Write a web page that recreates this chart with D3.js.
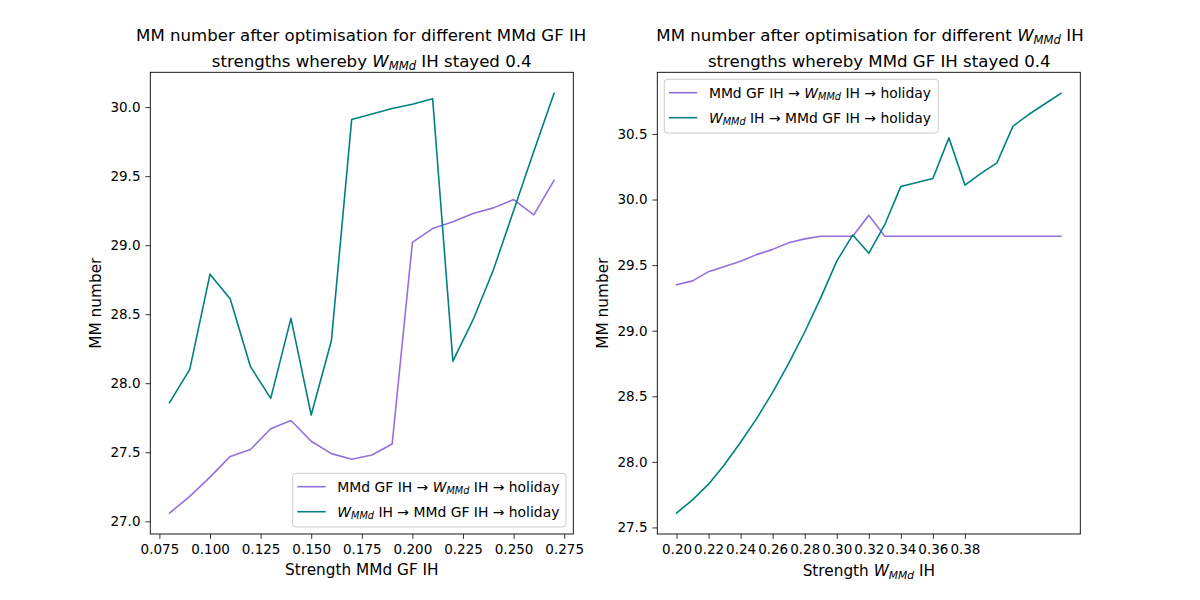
<!DOCTYPE html>
<html>
<head>
<meta charset="utf-8">
<script src="https://cdn.jsdelivr.net/npm/d3@7"></script>
<style>
  body { margin: 0; background: #fff; }
  svg { display: block; }
  text { font-family: "DejaVu Sans", sans-serif; fill: #000; }
</style>
</head>
<body>
<svg id="chart" width="1200" height="600"></svg>
<script>
// left panel: varying MMd GF IH strength, W_MMd IH fixed at 0.4
const leftStrengths = [0.08, 0.09, 0.10, 0.11, 0.12, 0.13, 0.14, 0.15, 0.16, 0.17,
  0.18, 0.19, 0.20, 0.21, 0.22, 0.23, 0.24, 0.25, 0.26, 0.27];
const leftGfFirst = [27.06, 27.18, 27.32, 27.47, 27.52, 27.67, 27.73, 27.58, 27.49, 27.45,
  27.48, 27.56, 29.02, 29.12, 29.17, 29.23, 29.27, 29.33, 29.22, 29.47];
const leftWFirst = [27.86, 28.10, 28.79, 28.61, 28.12, 27.89, 28.47, 27.77, 28.31, 29.91,
  29.95, 29.99, 30.02, 30.06, 28.16, 28.46, 28.82, 29.25, 29.68, 30.10];
const leftXTicks = [0.075, 0.100, 0.125, 0.150, 0.175, 0.200, 0.225, 0.250, 0.275];
const leftYTicks = [27.0, 27.5, 28.0, 28.5, 29.0, 29.5, 30.0];

// right panel: varying W_MMd IH strength, MMd GF IH fixed at 0.4
const rightStrengths = [0.20, 0.21, 0.22, 0.23, 0.24, 0.25, 0.26, 0.27, 0.28, 0.29,
  0.30, 0.31, 0.32, 0.33, 0.34, 0.35, 0.36, 0.37, 0.38, 0.39, 0.40, 0.41, 0.42, 0.43, 0.44];
const rightGfFirst = [29.35, 29.38, 29.45, 29.49, 29.53, 29.58, 29.62, 29.67, 29.70, 29.72,
  29.72, 29.72, 29.88, 29.72, 29.72, 29.72, 29.72, 29.72, 29.72, 29.72, 29.72, 29.72, 29.72, 29.72, 29.72];
const rightWFirst = [27.61, 27.71, 27.83, 27.98, 28.15, 28.33, 28.53, 28.75, 28.99, 29.25,
  29.53, 29.73, 29.59, 29.81, 30.10, 30.13, 30.16, 30.47, 30.11, 30.20, 30.28, 30.56, 30.65, 30.73, 30.81];
const rightXTicks = [0.20, 0.22, 0.24, 0.26, 0.28, 0.30, 0.32, 0.34, 0.36, 0.38];
const rightYTicks = [27.5, 28.0, 28.5, 29.0, 29.5, 30.0, 30.5];

const PURPLE = "#9370db";
const TEAL = "#008080";
const W = { it: "W" }, MMD = { sub: "MMd" };

const svg = d3.select("#chart");

// plain strings, {it: ".."} italic, {sub: ".."} italic subscript (matplotlib mathtext look)
function richText(sel, parts, size) {
  let shift = 0;
  parts.forEach((p) => {
    const t = sel.append("tspan");
    if (typeof p === "string") {
      t.text(p);
    } else if (p.it) {
      t.attr("font-style", "italic").text(p.it);
    } else if (p.sub) {
      t.attr("font-style", "italic").attr("font-size", size * 0.7).text(p.sub);
      t.attr("dy", size * 0.2);
      shift = size * 0.2;
      return;
    }
    if (shift) { t.attr("dy", -shift); shift = 0; }
  });
  return sel;
}

function padded(values) {
  const [lo, hi] = d3.extent(values);
  const m = (hi - lo) * 0.05;
  return [lo - m, hi + m];
}

function drawPanel(cfg) {
  const x = d3.scaleLinear().domain(padded(cfg.xs)).range([cfg.left, cfg.right]);
  const y = d3.scaleLinear().domain(padded(cfg.a.concat(cfg.b))).range([cfg.bottom, cfg.top]);
  const g = svg.append("g");

  const xAxis = g.append("g")
    .attr("transform", `translate(0,${cfg.bottom})`)
    .call(d3.axisBottom(x).tickValues(cfg.xTicks).tickFormat(d3.format(cfg.xFmt))
      .tickSize(4.9).tickSizeOuter(0).tickPadding(5.5));
  const yAxis = g.append("g")
    .attr("transform", `translate(${cfg.left},0)`)
    .call(d3.axisLeft(y).tickValues(cfg.yTicks).tickFormat(d3.format(".1f"))
      .tickSize(4.9).tickSizeOuter(0).tickPadding(4.9));
  [xAxis, yAxis].forEach((ax) => {
    ax.select(".domain").remove();
    ax.selectAll("line").attr("stroke", "#000").attr("stroke-width", 0.8);
    ax.selectAll("text").attr("font-size", 13.5).attr("font-family", "DejaVu Sans").attr("fill", "#000");
  });

  const line = d3.line().x((d) => x(d[0])).y((d) => y(d[1]));
  [[cfg.a, PURPLE], [cfg.b, TEAL]].forEach(([vals, color]) => {
    g.append("path")
      .datum(cfg.xs.map((v, i) => [v, vals[i]]))
      .attr("d", line)
      .attr("fill", "none")
      .attr("stroke", color)
      .attr("stroke-width", 1.6)
      .attr("stroke-linejoin", "round")
      .attr("stroke-linecap", "square");
  });

  g.append("rect")
    .attr("x", cfg.left).attr("y", cfg.top)
    .attr("width", cfg.right - cfg.left).attr("height", cfg.bottom - cfg.top)
    .attr("fill", "none").attr("stroke", "#000").attr("stroke-width", 0.9);

  // titles (two lines)
  cfg.title.forEach((parts, i) => {
    richText(g.append("text")
      .attr("x", cfg.titleX[i]).attr("y", 40.5 + i * 26)
      .attr("text-anchor", "middle").attr("font-size", 16.6), parts, 16.6);
  });

  richText(g.append("text")
    .attr("x", (cfg.left + cfg.right) / 2).attr("y", cfg.xLabelY)
    .attr("text-anchor", "middle").attr("font-size", 15.3), cfg.xLabel, 15.3);

  g.append("text")
    .attr("transform", `translate(${cfg.yLabelX},${(cfg.top + cfg.bottom) / 2}) rotate(-90)`)
    .attr("text-anchor", "middle").attr("font-size", 15.3)
    .text("MM number");

  // legend
  const lg = cfg.legend;
  const leg = g.append("g").attr("transform", `translate(${lg.x},${lg.y})`);
  leg.append("rect")
    .attr("width", lg.w).attr("height", 53.7).attr("rx", 3)
    .attr("fill", "#fff").attr("fill-opacity", 0.8)
    .attr("stroke", "#cccccc").attr("stroke-width", 1);
  const entries = [
    [PURPLE, ["MMd GF IH \u2192 ", W, MMD, " IH \u2192 holiday"]],
    [TEAL, [W, MMD, " IH \u2192 MMd GF IH \u2192 holiday"]]
  ];
  entries.forEach(([color, parts], i) => {
    const cy = 13.4 + i * 25;
    leg.append("line")
      .attr("x1", 4.6).attr("x2", 33).attr("y1", cy).attr("y2", cy)
      .attr("stroke", color).attr("stroke-width", 1.6);
    richText(leg.append("text")
      .attr("x", 44.6).attr("y", cy + 5).attr("font-size", 13.9), parts, 13.9);
  });
}

drawPanel({
  left: 150.3, right: 573.3, top: 72.3, bottom: 534,
  xs: leftStrengths, a: leftGfFirst, b: leftWFirst,
  xTicks: leftXTicks, yTicks: leftYTicks, xFmt: ".3f",
  title: [["MM number after optimisation for different MMd GF IH"],
          ["strengths whereby ", W, MMD, " IH stayed 0.4"]],
  titleX: [361.2, 371.7],
  xLabel: ["Strength MMd GF IH"], xLabelY: 574.5,
  yLabelX: 100.5,
  legend: { x: 292.7, y: 473.3, w: 273.3 }
});

drawPanel({
  left: 657.3, right: 1080.3, top: 72.3, bottom: 534,
  xs: rightStrengths, a: rightGfFirst, b: rightWFirst,
  xTicks: rightXTicks, yTicks: rightYTicks, xFmt: ".2f",
  title: [["MM number after optimisation for different ", W, MMD, " IH"],
          ["strengths whereby MMd GF IH stayed 0.4"]],
  titleX: [870, 879.3],
  xLabel: ["Strength ", W, MMD, " IH"], xLabelY: 575.5,
  yLabelX: 607.5,
  legend: { x: 664.3, y: 79.3, w: 274 }
});
</script>
</body>
</html>
